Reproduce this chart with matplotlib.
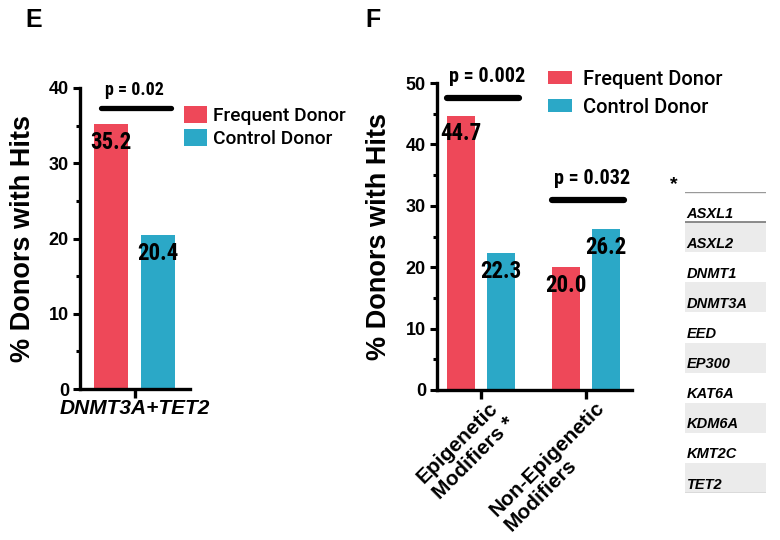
import numpy as np
import matplotlib.pyplot as plt
from matplotlib.ticker import MultipleLocator
from matplotlib.transforms import ScaledTranslation

RED = '#ee4859'
BLUE = '#2ba8c7'
SANS = ['Liberation Sans', 'DejaVu Sans']
NARROW = ['Roboto Condensed', 'Liberation Sans', 'DejaVu Sans']

# panel E
groups_e = ['DNMT3A+TET2']
frequent_e = [35.2]
control_e = [20.4]
p_text_e = ['p = 0.02']
p_line_e = [37.3]

# panel F
groups_f = ['Epigenetic\nModifiers *', 'Non-Epigenetic\nModifiers']
frequent_f = [44.7, 20.0]
control_f = [22.3, 26.2]
p_text_f = ['p = 0.002', 'p = 0.032']
p_line_f = [47.6, 30.9]

# epigenetic modifier genes (*)
genes = ['ASXL1', 'ASXL2', 'DNMT1', 'DNMT3A', 'EED', 'EP300',
         'KAT6A', 'KDM6A', 'KMT2C', 'TET2']

plt.rcParams['font.family'] = SANS


def style_axes(ax, ymax):
    for s in ['top', 'right']:
        ax.spines[s].set_visible(False)
    for s in ['left', 'bottom']:
        ax.spines[s].set_linewidth(2.4)
    ax.set_ylim(0, ymax)
    ax.yaxis.set_major_locator(MultipleLocator(10))
    ax.yaxis.set_minor_locator(MultipleLocator(5))
    ax.tick_params(axis='y', which='major', length=5, width=2.2, labelsize=13, pad=3)
    ax.tick_params(axis='y', which='minor', length=3, width=2.2)
    ax.tick_params(axis='x', which='major', length=6.5, width=2.4, pad=1)
    for t in ax.get_yticklabels():
        t.set_fontweight('bold')
    ax.set_ylabel('% Donors with Hits', fontsize=19.5, fontweight='bold')


def draw_bars(ax, freq, ctrl, offset, width):
    x = np.arange(len(freq))
    b1 = ax.bar(x - offset, freq, width, color=RED, label='Frequent Donor')
    b2 = ax.bar(x + offset, ctrl, width, color=BLUE, label='Control Donor')
    for rect, v in zip(list(b1) + list(b2), list(freq) + list(ctrl)):
        ax.annotate('{:.1f}'.format(v), (rect.get_x() + rect.get_width() / 2, v),
                    xytext=(0, -13), textcoords='offset points', ha='center',
                    va='center', fontsize=16.5, fontweight='bold', family=NARROW)
    return x


def draw_pvals(ax, x, heights, texts, left, right, dx, lw, fs, dy):
    for xi, h, t in zip(x, heights, texts):
        ax.plot([xi - left, xi + right], [h, h], color='black', lw=lw,
                solid_capstyle='round', clip_on=False)
        ax.annotate(t, (xi + dx, h), xytext=(0, dy), textcoords='offset points',
                    ha='center', va='center', fontsize=fs, fontweight='bold',
                    family=NARROW, annotation_clip=False)


fig = plt.figure(figsize=(7.8, 5.4), dpi=100)

# ---- E ----
ax_e = fig.add_axes([80 / 780, 1 - 389 / 540, 110 / 780, 301 / 540])
x_e = draw_bars(ax_e, frequent_e, control_e, 0.5, 0.72)
style_axes(ax_e, 40)
ax_e.set_xlim(-1.165, 1.176)
ax_e.set_xticks(x_e)
ax_e.set_xticklabels(groups_e, fontsize=15, fontweight='bold', style='italic')
ax_e.yaxis.set_label_coords(-0.40, 0.5)
draw_pvals(ax_e, x_e, p_line_e, p_text_e, 0.72, 0.77, 0.0, 3.8, 13, 13)
ax_e.legend(loc='upper left', bbox_to_anchor=(184 / 780, 1 - 106.5 / 540),
            bbox_transform=fig.transFigure, frameon=False,
            prop={'family': 'Roboto', 'weight': 500, 'size': 13.8},
            handlelength=1.2, handleheight=0.95, handletextpad=0.3,
            labelspacing=0.2, borderpad=0, borderaxespad=0)

# ---- F ----
ax_f = fig.add_axes([437 / 780, 1 - 390 / 540, 195 / 780, 307 / 540])
x_f = draw_bars(ax_f, frequent_f, control_f, 0.19, 0.267)
style_axes(ax_f, 50)
ax_f.set_xlim(-0.419, 1.438)
ax_f.set_xticks(x_f)
ax_f.set_xticklabels(groups_f, fontsize=15, fontweight='bold', rotation=45,
                     rotation_mode='anchor', ha='right', va='top',
                     multialignment='left', linespacing=1.2)
shift = ScaledTranslation(6 / 72, 2 / 72, fig.dpi_scale_trans)
for lab in ax_f.get_xticklabels():
    lab.set_transform(lab.get_transform() + shift)
ax_f.yaxis.set_label_coords(-0.23, 0.5)
draw_pvals(ax_f, x_f, p_line_f, p_text_f, 0.32, 0.36, 0.06, 4.5, 14.5, 15.5)
ax_f.legend(loc='upper left', bbox_to_anchor=(548 / 780, 1 - 69.5 / 540),
            bbox_transform=fig.transFigure, frameon=False,
            prop={'family': 'Roboto', 'weight': 500, 'size': 14.5},
            handlelength=1.2, handleheight=0.65, handletextpad=0.55,
            labelspacing=0.45, borderpad=0, borderaxespad=0)

# ---- gene table ----
ax_t = fig.add_axes([685 / 780, 1 - 493 / 540, 81 / 780, 301 / 540])
ax_t.set_xlim(0, 1)
ax_t.set_ylim(len(genes), 0)
ax_t.axis('off')
for i, g in enumerate(genes):
    if i % 2 == 1:
        ax_t.axhspan(i, i + 1, color='#ebebeb', lw=0)
    ax_t.text(0.02, i + 0.72, g, fontsize=10.5, fontweight='bold', style='italic',
              va='center', ha='left')
ax_t.axhline(0, color='#999999', lw=1)
ax_t.axhline(1, color='#777777', lw=1.2)
ax_t.axhline(len(genes), color='#999999', lw=1)
ax_t.text(-0.136, -0.25, '*', fontsize=14, fontweight='bold', ha='center',
          va='center', clip_on=False)

fig.text(34 / 780, 1 - 20 / 540, 'E', fontsize=18, fontweight='bold', ha='center', va='center')
fig.text(373 / 780, 1 - 20 / 540, 'F', fontsize=18, fontweight='bold', ha='center', va='center')

fig.savefig('out.png', dpi=100)
